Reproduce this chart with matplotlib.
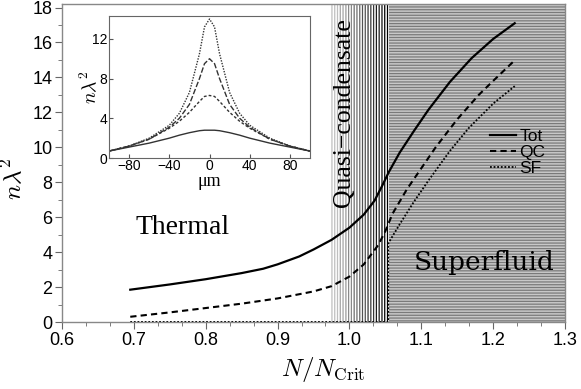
import numpy as np
import matplotlib
matplotlib.use("Agg")
import matplotlib.pyplot as plt
from matplotlib.ticker import MultipleLocator
from matplotlib.lines import Line2D

plt.rcParams["font.family"] = ["Liberation Sans", "DejaVu Sans"]
plt.rcParams["mathtext.fontset"] = "cm"
plt.rcParams["hatch.linewidth"] = 0.9

# main curves: density vs N/N_crit
tot_x = [0.695, 0.75, 0.80, 0.85, 0.88, 0.90, 0.93, 0.95, 0.975, 1.00, 1.02, 1.035,
         1.045, 1.055, 1.07, 1.09, 1.11, 1.14, 1.17, 1.20, 1.23]
tot_y = [1.85, 2.15, 2.45, 2.8, 3.05, 3.3, 3.75, 4.15, 4.7, 5.4, 6.15, 6.95,
         7.75, 8.6, 9.7, 10.95, 12.15, 13.75, 15.1, 16.2, 17.1]
qc_x = [0.695, 0.75, 0.80, 0.85, 0.90, 0.95, 0.975, 1.00, 1.02, 1.04, 1.05,
        1.06, 1.08, 1.10, 1.12, 1.15, 1.18, 1.20, 1.228]
qc_y = [0.3, 0.55, 0.8, 1.05, 1.35, 1.75, 2.05, 2.6, 3.3, 4.4, 5.2,
        6.2, 7.6, 8.8, 10.0, 11.6, 13.0, 13.8, 14.9]
sf_x = [0.695, 0.80, 0.90, 1.00, 1.054, 1.054, 1.07, 1.09, 1.11, 1.14, 1.166,
        1.20, 1.23]
sf_y = [0.0, 0.0, 0.0, 0.0, 0.0, 4.5, 5.6, 6.9, 8.1, 9.8, 11.1, 12.5, 13.5]

# regimes
qc_start, sf_start, x_end = 0.975, 1.055, 1.30

# inset profiles (position in um)
pos = [-100, -80, -60, -40, -30, -20, -10, -5, 0, 5, 10, 20, 30, 40, 60, 80, 100]
prof_a = [0.7, 1.1, 1.5, 2.0, 2.3, 2.55, 2.75, 2.8, 2.8, 2.8, 2.75, 2.55, 2.3, 2.0, 1.5, 1.1, 0.7]
prof_b = [0.7, 1.2, 1.9, 3.0, 3.7, 4.6, 5.7, 6.2, 6.3, 6.2, 5.7, 4.6, 3.7, 3.0, 1.9, 1.2, 0.7]
prof_c = [0.7, 1.2, 1.9, 3.1, 4.0, 5.4, 8.0, 9.5, 10.0, 9.5, 8.0, 5.4, 4.0, 3.1, 1.9, 1.2, 0.7]
prof_d = [0.7, 1.2, 2.0, 3.3, 4.5, 6.6, 10.5, 13.2, 14.0, 13.2, 10.5, 6.6, 4.5, 3.3, 2.0, 1.2, 0.7]

fig = plt.figure(figsize=(5.81, 3.89), dpi=100)
ax = fig.add_axes([0.1067, 0.1722, 0.8658, 0.8175])

# quasi-condensate band: vertical hatch getting darker
edges = np.linspace(qc_start, sf_start, 9)
greys = np.linspace(0.75, 0.0, 8)
for i in range(8):
    ax.axvspan(edges[i], edges[i + 1], facecolor="white", edgecolor=str(greys[i]),
               hatch="|" * 6, lw=0, zorder=0)
# superfluid band: horizontal hatch
ax.axvspan(sf_start, x_end, facecolor="#c8c8c8", edgecolor="#7a7a7a",
           hatch="-" * 6, lw=0, zorder=0)

ax.plot(tot_x, tot_y, color="black", lw=1.6, zorder=3)
ax.plot(qc_x, qc_y, color="black", lw=1.5, ls=(0, (3, 2)), zorder=3)
ax.plot(sf_x, sf_y, color="black", lw=1.3, ls=(0, (1, 1)), zorder=3)

ax.set_xlim(0.6, 1.3)
ax.set_ylim(0, 18.2)
ax.xaxis.set_major_locator(MultipleLocator(0.1))
ax.xaxis.set_minor_locator(MultipleLocator(0.1 / 3))
ax.yaxis.set_major_locator(MultipleLocator(2))
ax.yaxis.set_minor_locator(MultipleLocator(1))
ax.set_xticks(ax.get_xticks())
ax.set_xticklabels(["%.1f" % t for t in ax.get_xticks()])
ax.set_xlim(0.6, 1.3)
ax.tick_params(which="both", direction="out", colors="#666666", labelcolor="black",
               labelsize=13, pad=2)
ax.tick_params(which="major", length=5)
ax.tick_params(which="minor", length=3)
for s in ax.spines.values():
    s.set_color("#888888")
    s.set_linewidth(1.0)

ax.set_xlabel(r"$N/N_{\rm Crit}$", fontsize=18, labelpad=0)
ax.xaxis.set_label_coords(0.52, -0.105)
ax.set_ylabel(r"$n\lambda^2$", fontsize=18, labelpad=2)
ax.yaxis.set_label_coords(-0.07, 0.45)

serif = ["Liberation Serif", "DejaVu Serif"]
ax.text(0.768, 5.4, "Thermal", family=serif, fontsize=20, ha="center", va="center")
ax.text(1.188, 3.4, "Superfluid", family=["DejaVu Serif"], fontsize=19,
        ha="center", va="center")
ax.text(0.992, 12.0, "Quasi\u2212condensate", family=serif, fontsize=18.5,
        rotation=90, ha="center", va="center")

handles = [Line2D([], [], color="black", lw=1.6),
           Line2D([], [], color="black", lw=1.5, ls=(0, (3, 2))),
           Line2D([], [], color="black", lw=1.3, ls=(0, (1, 1)))]
ax.legend(handles, ["Tot", "QC", "SF"], loc="upper left", bbox_to_anchor=(0.83, 0.64),
          frameon=False, fontsize=12.5, handlelength=1.5, handletextpad=0.2,
          labelspacing=0.05, borderpad=0.1)

# inset
ins = fig.add_axes([0.1876, 0.5938, 0.346, 0.365])
ins.plot(pos, prof_a, color="#333333", lw=1.0)
ins.plot(pos, prof_b, color="#333333", lw=1.0, ls=(0, (2, 1.5)))
ins.plot(pos, prof_c, color="#333333", lw=1.0, ls=(0, (4, 1.5)))
ins.plot(pos, prof_d, color="#333333", lw=1.0, ls=(0, (1, 1)))
ins.set_xlim(-100, 100)
ins.set_ylim(0, 14.3)
ins.set_xticks([-80, -40, 0, 40, 80])
ins.set_yticks([0, 4, 8, 12])
ins.tick_params(direction="in", length=3, labelsize=10, pad=1, colors="#555555",
                labelcolor="black")
for s in ins.spines.values():
    s.set_color("#666666")
    s.set_linewidth(0.8)
ins.set_xlabel("\u03bcm", family=serif, fontsize=13, labelpad=0)
ins.set_ylabel(r"$n\lambda^2$", fontsize=14, labelpad=-6)

fig.savefig("out.png", dpi=100)
